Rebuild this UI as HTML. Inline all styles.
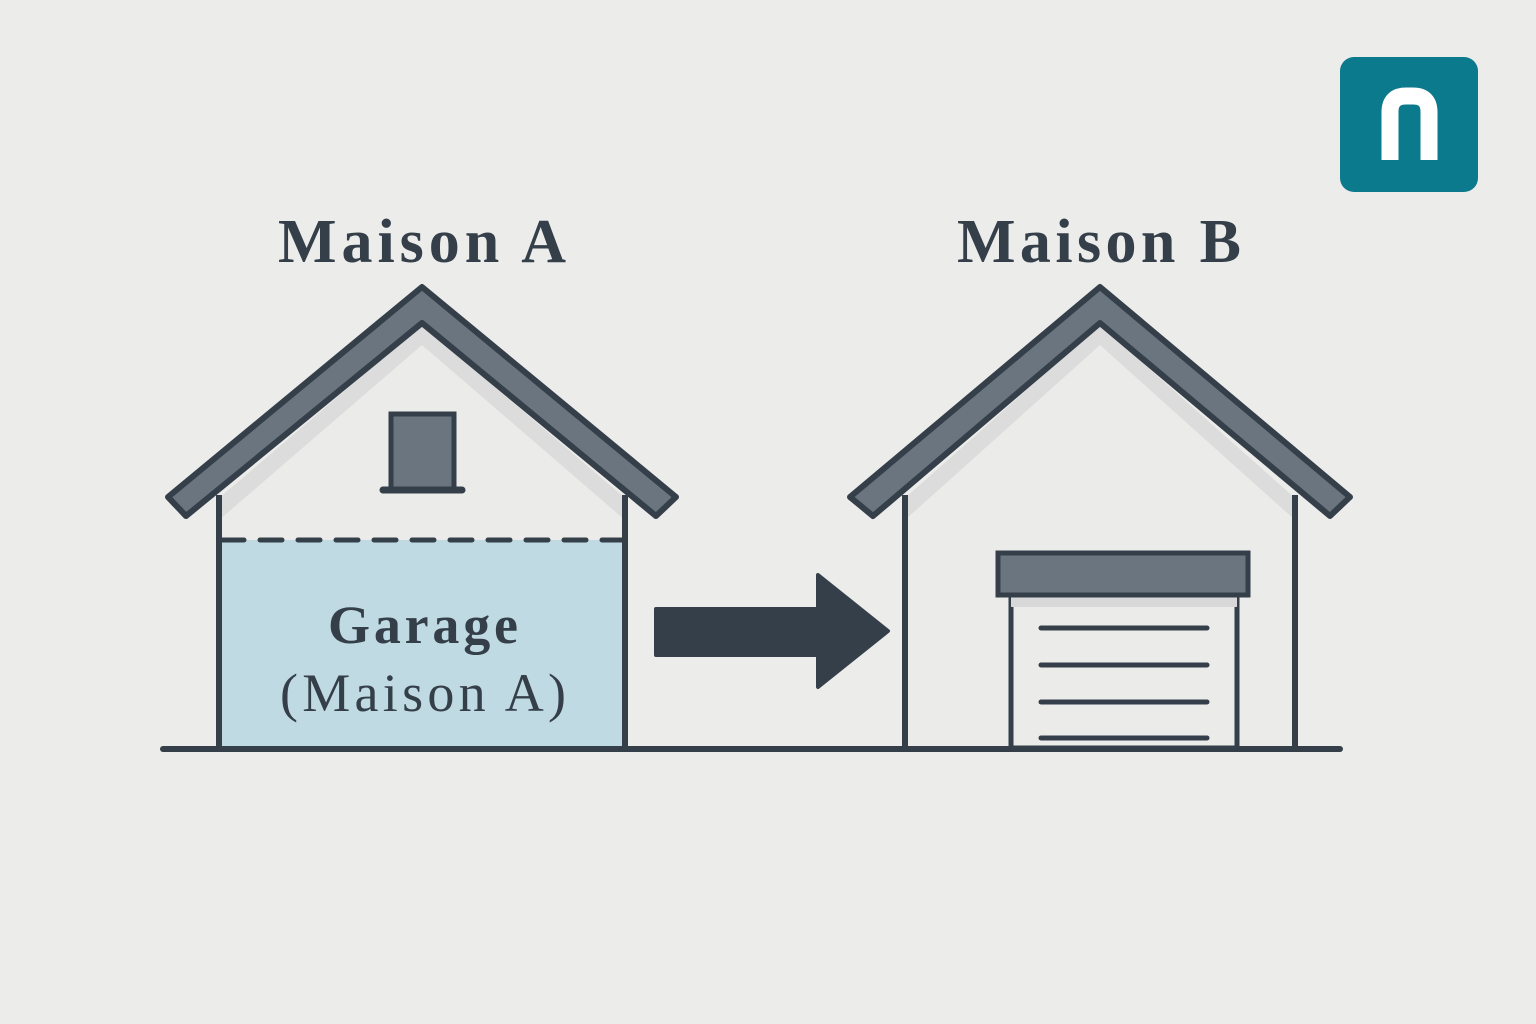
<!DOCTYPE html>
<html><head><meta charset="utf-8"><style>body{margin:0;background:#ececea}svg{display:block}</style></head>
<body>
<svg width="1536" height="1024" viewBox="0 0 1536 1024" xmlns="http://www.w3.org/2000/svg">
<rect width="1536" height="1024" fill="#ececea"/>
<!-- logo -->
<rect x="1340" y="57" width="138" height="135" rx="14" fill="#0a7a8c"/>
<path d="M1390 160 V112 Q1390 96 1406 96 H1413 Q1429 96 1429 112 V160" fill="none" stroke="#fff" stroke-width="17"/>
<g font-family="'Liberation Serif',serif" fill="#353f4a" text-anchor="middle" font-weight="bold">
<text x="422" y="262" font-size="62" textLength="288" lengthAdjust="spacing">Maison A</text>
<text x="1099" y="262" font-size="62" textLength="284" lengthAdjust="spacing">Maison B</text>
</g>
<!-- house A -->
<polygon points="219,498 422,325 625,498 625,748 219,748" fill="#ebebea"/>
<polygon points="219,498 422,325 625,498 625,520 422,345 219,520" fill="#dcdcdc"/>
<rect x="219" y="540" width="406" height="208" fill="#bfdae2"/>
<line x1="222" y1="540" x2="622" y2="540" stroke="#353f4a" stroke-width="5" stroke-dasharray="22 16" stroke-linecap="round"/>
<rect x="391" y="414" width="63" height="76" fill="#6b7580" stroke="#353f4a" stroke-width="5"/>
<line x1="383" y1="490" x2="462" y2="490" stroke="#353f4a" stroke-width="7" stroke-linecap="round"/>
<line x1="219" y1="495" x2="219" y2="748" stroke="#353f4a" stroke-width="6"/>
<line x1="625" y1="495" x2="625" y2="748" stroke="#353f4a" stroke-width="6"/>
<polygon points="168,497 422,287 676,497 656,516 422,323 186,516" fill="#6b7580" stroke="#353f4a" stroke-width="6" stroke-linejoin="round"/>
<g font-family="'Liberation Serif',serif" fill="#353f4a" text-anchor="middle" font-size="54">
<text x="423" y="643" font-weight="bold" textLength="190" lengthAdjust="spacing">Garage</text>
<text x="423" y="711" textLength="286" lengthAdjust="spacing">(Maison A)</text>
</g>
<!-- arrow -->
<polygon points="656,609 818,609 818,575 888,631 818,687 818,655 656,655" fill="#353f4a" stroke="#353f4a" stroke-width="4" stroke-linejoin="round"/>
<!-- house B -->
<polygon points="905,498 1100,325 1295,498 1295,748 905,748" fill="#ebebea"/>
<polygon points="905,498 1100,325 1295,498 1295,520 1100,345 905,520" fill="#dcdcdc"/>
<line x1="905" y1="495" x2="905" y2="748" stroke="#353f4a" stroke-width="6"/>
<line x1="1295" y1="495" x2="1295" y2="748" stroke="#353f4a" stroke-width="6"/>
<polygon points="850,497 1100,287 1350,497 1330,516 1100,323 873,516" fill="#6b7580" stroke="#353f4a" stroke-width="6" stroke-linejoin="round"/>
<rect x="1011" y="596" width="226" height="152" fill="#ebebea" stroke="#353f4a" stroke-width="5"/>
<rect x="1011" y="597" width="226" height="10" fill="#d8d8d8"/>
<rect x="998" y="553" width="250" height="42" fill="#6b7580" stroke="#353f4a" stroke-width="5"/>
<g stroke="#353f4a" stroke-width="5" stroke-linecap="round">
<line x1="1041" y1="628" x2="1207" y2="628"/>
<line x1="1041" y1="665" x2="1207" y2="665"/>
<line x1="1041" y1="702" x2="1207" y2="702"/>
<line x1="1041" y1="738" x2="1207" y2="738"/>
</g>
<line x1="163" y1="749" x2="1340" y2="749" stroke="#353f4a" stroke-width="6" stroke-linecap="round"/>
</svg>
</body></html>
